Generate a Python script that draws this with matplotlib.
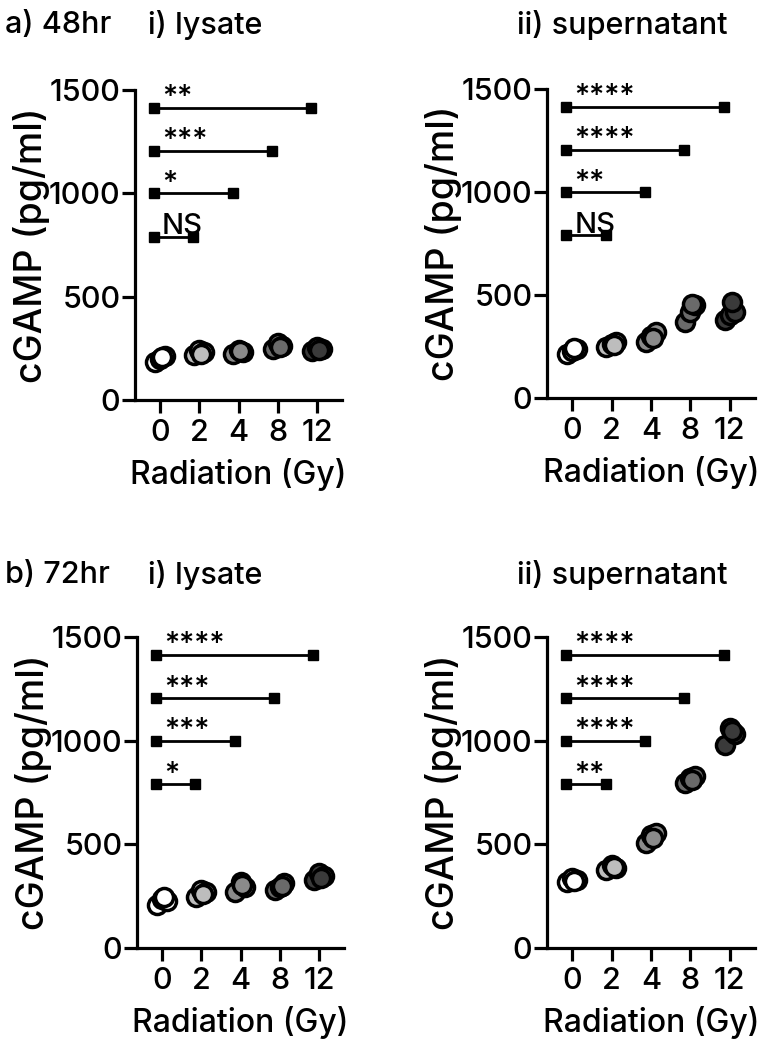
import matplotlib
matplotlib.use("Agg")
import matplotlib.pyplot as plt
import numpy as np

plt.rcParams['font.family'] = ['Inter', 'Liberation Sans', 'DejaVu Sans']

doses = ["0", "2", "4", "8", "12"]

# replicate values (pg/ml) per dose
a_lysate = [[185, 200, 215, 208], [220, 240, 230, 225], [225, 240, 232, 235], [245, 275, 262, 255], [235, 255, 245, 240]]
a_super = [[215, 228, 238, 245], [250, 262, 270, 258], [270, 300, 322, 290], [370, 418, 450, 458], [380, 405, 418, 465]]
b_lysate = [[208, 237, 227, 245], [248, 280, 270, 262], [270, 320, 295, 305], [280, 296, 312, 300], [330, 360, 345, 340]]
b_super = [[318, 336, 328, 322], [378, 400, 386, 392], [507, 545, 556, 530], [797, 818, 828, 810], [978, 1062, 1030, 1045]]

# significance labels (0 vs 12, 0 vs 8, 0 vs 4, 0 vs 2)
a_lysate_sig = ["**", "***", "*", "NS"]
a_super_sig = ["****", "****", "**", "NS"]
b_lysate_sig = ["****", "***", "***", "*"]
b_super_sig = ["****", "****", "****", "**"]
sig_levels = [1415, 1205, 1000, 790]
sig_targets = [4, 3, 2, 1]

fill_colors = ["#ffffff", "#bdbdbd", "#8a8a8a", "#6a6a6a", "#3a3a3a"]
jitter = [-0.13, 0.0, 0.12, 0.05]

FS = 22
WT = 'medium'
W, H = 768, 1051
fig = plt.figure(figsize=(W / 100, H / 100), dpi=100)


def px_axes(left, right, top, bottom):
    return fig.add_axes([left / W, 1 - bottom / H, (right - left) / W, (bottom - top) / H])


def draw_panel(ax, data, sigs):
    for i, vals in enumerate(data):
        for j, v in enumerate(vals):
            ax.plot(i + jitter[j % len(jitter)], v, 'o', ms=13, mfc=fill_colors[i],
                    mec='black', mew=2.5, zorder=3, clip_on=False)
    for lvl, tgt, s in zip(sig_levels, sig_targets, sigs):
        ax.plot([-0.15, tgt - 0.15], [lvl, lvl], '-', color='black', lw=2.0,
                marker='s', ms=6.5, clip_on=False, zorder=2)
        ax.text(-0.15 + 0.2, lvl + 12, s, fontsize=FS - 1, ha='left', va='baseline',
                clip_on=False, fontweight=WT)
    ax.set_xlim(-0.64, 4.64)
    ax.set_ylim(0, 1500)
    ax.set_xticks(range(len(doses)))
    ax.set_xticklabels(doses, fontweight=WT)
    ax.set_yticks([0, 500, 1000, 1500])
    ax.set_yticklabels(["0", "500", "1000", "1500"], fontweight=WT)
    for sp in ['top', 'right']:
        ax.spines[sp].set_visible(False)
    for sp in ['left', 'bottom']:
        ax.spines[sp].set_linewidth(2.3)
    ax.tick_params(axis='both', length=9.5, width=2.3, labelsize=FS)
    ax.tick_params(axis='y', pad=1)
    ax.tick_params(axis='x', pad=4)
    ax.set_xlabel("Radiation (Gy)", fontsize=FS + 1, labelpad=8, fontweight=WT)
    ax.set_ylabel("cGAMP (pg/ml)", fontsize=27, fontweight=WT)
    ax.yaxis.set_label_coords(-0.41, 0.5)
    ax.patch.set_alpha(0)


ax1 = px_axes(135, 342, 90, 400)
ax2 = px_axes(547, 755, 89, 398)
ax3 = px_axes(137, 344, 637, 948)
ax4 = px_axes(547, 755, 637, 948)

draw_panel(ax1, a_lysate, a_lysate_sig)
draw_panel(ax2, a_super, a_super_sig)
draw_panel(ax3, b_lysate, b_lysate_sig)
draw_panel(ax4, b_super, b_super_sig)

for y, tag in [(25, "a) 48hr"), (575, "b) 72hr")]:
    fig.text(5 / W, 1 - y / H, tag, fontsize=FS, va='center', ha='left', fontweight=WT)
    fig.text(148 / W, 1 - y / H, "i) lysate", fontsize=FS, va='center', ha='left', fontweight=WT)
    fig.text(517 / W, 1 - y / H, "ii) supernatant", fontsize=FS, va='center', ha='left', fontweight=WT)

fig.savefig("out.png", dpi=100, facecolor='white')
